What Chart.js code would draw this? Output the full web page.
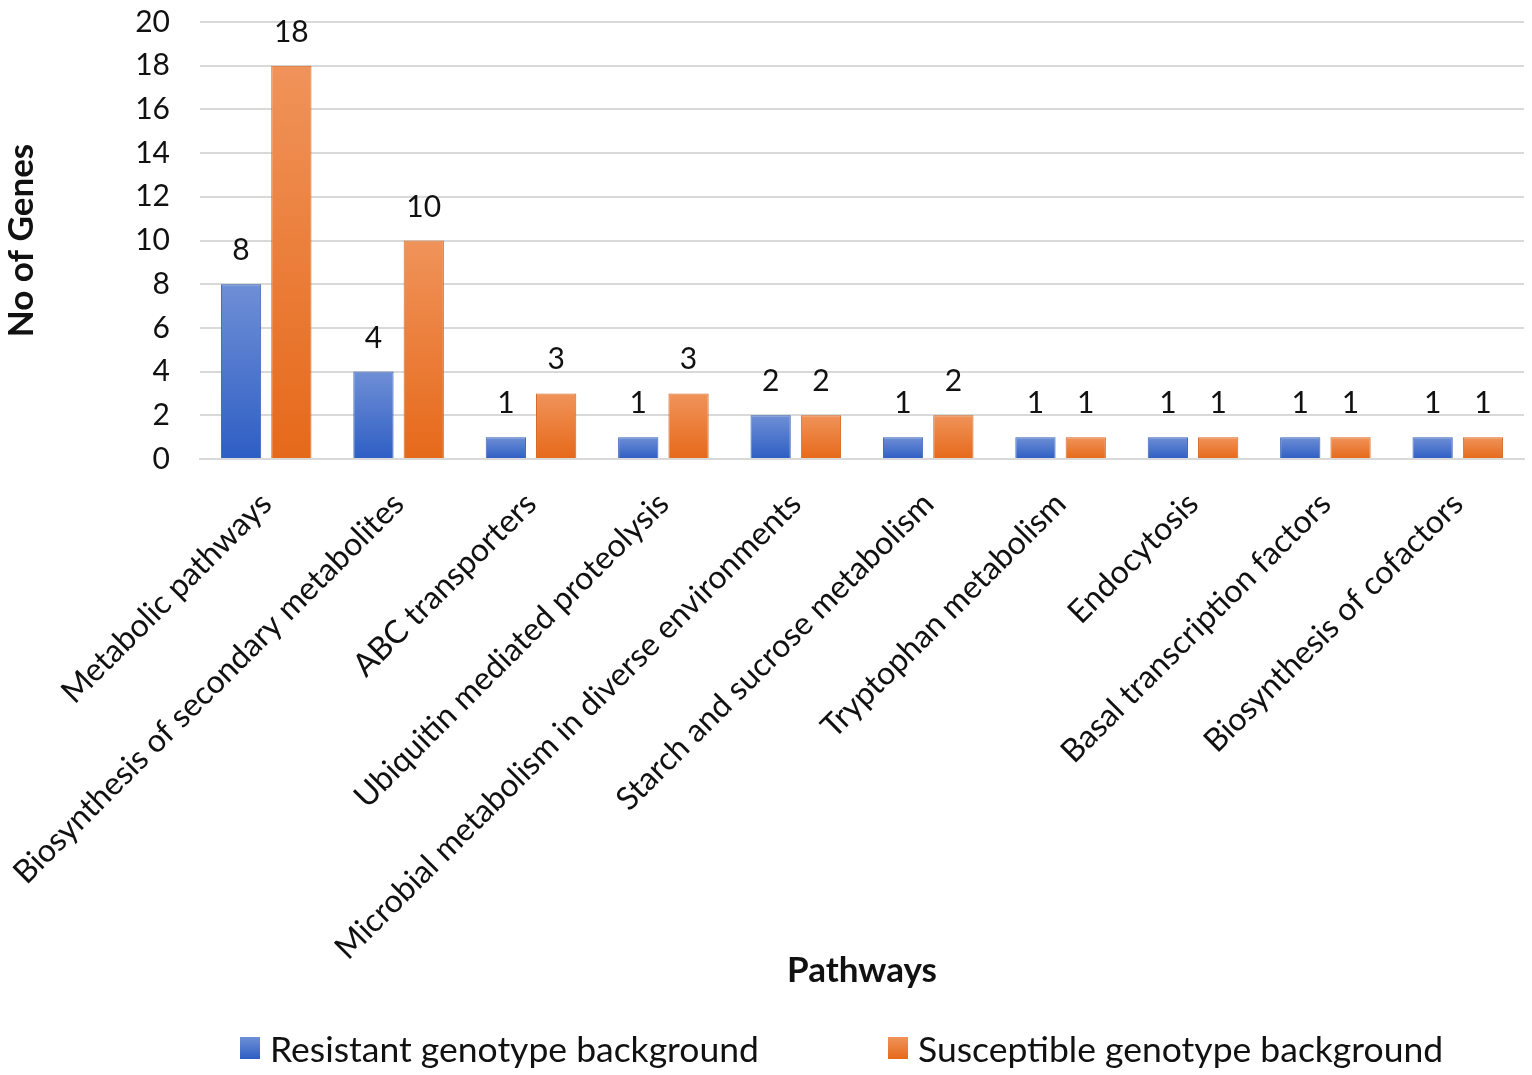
<!DOCTYPE html>
<html>
<head>
<meta charset="utf-8">
<script src="https://cdn.jsdelivr.net/npm/chart.js@4/dist/chart.umd.min.js"></script>
<style>
  html, body { margin: 0; padding: 0; background: #fff; }
  #wrap { position: relative; width: 1532px; height: 1075px; }
  #legend {
    position: absolute; left: 0; top: 1026px; width: 1532px; height: 44px;
    font-family: Lato, "Liberation Sans", sans-serif; font-size: 35.5px; color: #111;
  }
  .item { position: absolute; top: 0; display: flex; align-items: center; height: 44px; }
  .box { width: 20px; height: 22px; margin-right: 10px; }
</style>
</head>
<body>
<div id="wrap">
  <canvas id="pathwayChart" width="1532" height="1075"></canvas>
  <div id="legend"></div>
</div>
<script>
// Chart data
const pathways = [
    "Metabolic pathways",
    "Biosynthesis of secondary metabolites",
    "ABC transporters",
    "Ubiquitin mediated proteolysis",
    "Microbial metabolism in diverse environments",
    "Starch and sucrose metabolism",
    "Tryptophan metabolism",
    "Endocytosis",
    "Basal transcription factors",
    "Biosynthesis of cofactors"
];
const resistantGenes = [8, 4, 1, 1, 2, 1, 1, 1, 1, 1];
const susceptibleGenes = [18, 10, 3, 3, 2, 2, 1, 1, 1, 1];
const seriesNames = ["Resistant genotype background", "Susceptible genotype background"];
const yTicks = [0, 2, 4, 6, 8, 10, 12, 14, 16, 18, 20];

const FONT = "Lato, 'Liberation Sans', sans-serif";

// vertical gradient per bar, lighter at the top
function barGradient(top, bottom, fallback) {
    return (ctx) => {
        const chart = ctx.chart;
        const y = chart.scales.y;
        if (!y || ctx.raw === undefined) return fallback;
        const yTop = y.getPixelForValue(ctx.raw);
        const yBot = y.getPixelForValue(0);
        if (!isFinite(yTop) || !isFinite(yBot) || yTop === yBot) return fallback;
        const g = chart.ctx.createLinearGradient(0, yTop, 0, yBot);
        g.addColorStop(0, top);
        g.addColorStop(1, bottom);
        return g;
    };
}

// numbers above the bars
const valueLabels = {
    id: "valueLabels",
    afterDatasetsDraw(chart) {
        const ctx = chart.ctx;
        ctx.save();
        ctx.font = "30px " + FONT;
        ctx.fillStyle = "#111";
        ctx.textAlign = "center";
        ctx.textBaseline = "alphabetic";
        chart.data.datasets.forEach((ds, i) => {
            chart.getDatasetMeta(i).data.forEach((bar, j) => {
                ctx.fillText(String(ds.data[j]), bar.x, bar.y - 24);
            });
        });
        ctx.restore();
    }
};

const ctx = document.getElementById("pathwayChart");
const pathwayChart = new Chart(ctx, {
    type: "bar",
    data: {
        labels: pathways,
        datasets: [{
            label: seriesNames[0],
            data: resistantGenes,
            backgroundColor: barGradient("#6f8fd6", "#2e5ec4", "#4472c4"),
            borderColor: "#3560b4",
            borderWidth: 1,
            categoryPercentage: 0.76,
            barPercentage: 0.8
        }, {
            label: seriesNames[1],
            data: susceptibleGenes,
            backgroundColor: barGradient("#f0935a", "#e6691a", "#ed7d31"),
            borderColor: "#d8661e",
            borderWidth: 1,
            categoryPercentage: 0.76,
            barPercentage: 0.8
        }]
    },
    options: {
        responsive: false,
        animation: false,
        layout: { padding: { top: 0, right: 8, left: 0, bottom: 80 } },
        plugins: {
            legend: { display: false },
            tooltip: { enabled: false }
        },
        scales: {
            x: {
                grid: { display: false, drawTicks: false },
                border: { display: true, color: "#d9d9d9", width: 2 },
                ticks: {
                    autoSkip: false,
                    minRotation: 45,
                    maxRotation: 45,
                    padding: 26,
                    color: "#111",
                    font: { family: FONT, size: 32 }
                },
                title: {
                    display: true,
                    text: "Pathways",
                    color: "#111",
                    font: { family: FONT, size: 35, weight: "bold" },
                    padding: { top: 0, bottom: 3 }
                },
                afterFit(scale) { scale.height = 536; }
            },
            y: {
                min: 0,
                max: 20,
                afterBuildTicks(scale) { scale.ticks = yTicks.map(v => ({ value: v })); },
                // invisible tick marks give the gap between labels and plot
                grid: { color: "#d9d9d9", lineWidth: 2, drawTicks: true, tickLength: 26, tickColor: "rgba(0,0,0,0)" },
                border: { display: false },
                ticks: {
                    padding: 4,
                    color: "#111",
                    font: { family: FONT, size: 30 }
                },
                title: {
                    display: true,
                    text: "No of Genes",
                    color: "#111",
                    font: { family: FONT, size: 35, weight: "bold" },
                    padding: { top: 1, bottom: 0 }
                },
                afterFit(scale) { scale.width = 200; }
            }
        }
    },
    plugins: [valueLabels]
});

// legend below the chart
const legendColors = ["linear-gradient(#6f8fd6, #2e5ec4)", "linear-gradient(#f0935a, #e6691a)"];
const legendLeft = [240, 888];
const legend = document.getElementById("legend");
seriesNames.forEach((name, i) => {
    const item = document.createElement("div");
    item.className = "item";
    item.style.left = legendLeft[i] + "px";
    item.innerHTML = '<span class="box" style="background:' + legendColors[i] + '"></span><span>' + name + "</span>";
    legend.appendChild(item);
});
</script>
</body>
</html>
